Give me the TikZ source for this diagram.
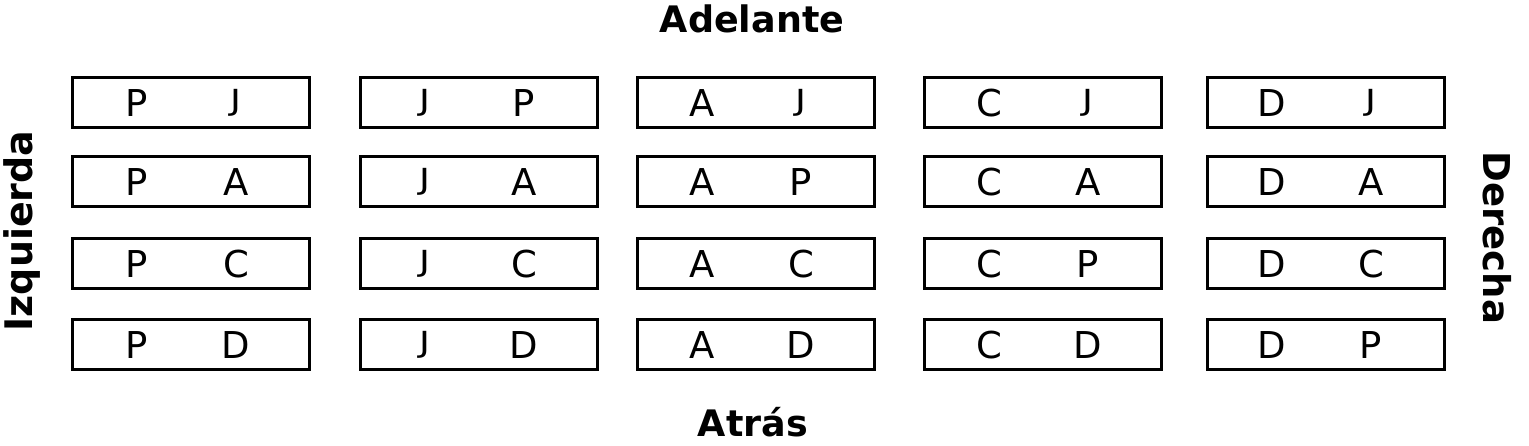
\documentclass[tikz,border=0pt]{standalone}
\usepackage{graphicx}
\usepackage{fontspec}
\setmainfont{DejaVu Sans}
\newcommand\seatglyph[1]{\if J#1\raisebox{0.157em}{\scalebox{1}[0.785]{J}}\else #1\fi}
\begin{document}
\begin{tikzpicture}[x=1pt,y=-1pt,
  cell/.style={draw=black,line width=3pt,minimum width=237pt,minimum height=50.5pt,inner sep=0pt},
  letter/.style={font=\fontsize{37}{37}\selectfont,inner sep=0pt,anchor=base},
  title/.style={font=\fontsize{36.5}{36.5}\selectfont\bfseries,inner sep=0pt}]
\useasboundingbox (0,0) rectangle (1529,445);
\foreach \c/\x/\a/\b/\cc/\d/\e/\f/\g/\h in {
  1/71/P/J/P/A/P/C/P/D,
  2/359/J/P/J/A/J/C/J/D,
  3/636/A/J/A/P/A/C/A/D,
  4/923/C/J/C/A/C/P/C/D,
  5/1206/D/J/D/A/D/C/D/P}{
  \foreach \r/\y/\l/\m in {1/102.5/\a/\b, 2/181.5/\cc/\d, 3/263.5/\e/\f, 4/344.5/\g/\h}{
    \node[cell] (b\c\r) at (\x+120,\y) {};
    \node[letter] (l\c\r) at (\x+66,\y+13.5) {\seatglyph{\l}};
    \node[letter] (r\c\r) at (\x+165,\y+13.5) {\seatglyph{\m}};
  }
}
\node[title] (front) at (752,19) {Adelante};
\node[title] (back) at (753,422) {Atrás};
\node[title,font=\fontsize{38}{38}\selectfont\bfseries,rotate=90] (left) at (22,231) {Izquierda};
\node[title,font=\fontsize{37}{37}\selectfont\bfseries,rotate=-90] (right) at (1497,238) {Derecha};
\end{tikzpicture}
\end{document}
